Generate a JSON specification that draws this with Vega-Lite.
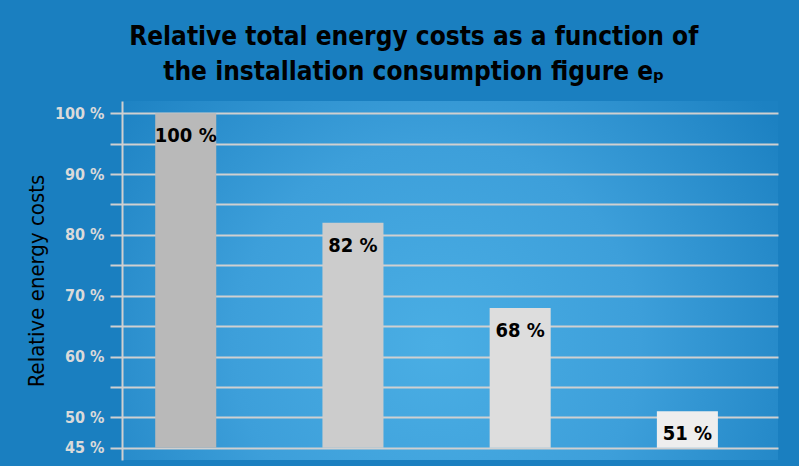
{
  "$schema": "https://vega.github.io/schema/vega-lite/v6.json",
  "autosize": {"type": "none"},
  "padding": {"left": 122, "top": 101, "right": 21, "bottom": 6},
  "width": 656,
  "height": 359,
  "background": "#1a7fc0",
  "title": {
    "text": ["Relative total energy costs as a function of", "the installation consumption figure eₚ"],
    "fontSize": 26,
    "fontWeight": "bold",
    "font": "DejaVu Sans Condensed, sans-serif",
    "color": "#000000",
    "lineHeight": 35,
    "anchor": "middle",
    "frame": "bounds",
    "dx": 12,
    "offset": 16
  },
  "config": {
    "view": {
      "stroke": null,
      "fill": {
        "gradient": "radial",
        "x1": 0.48, "y1": 0.6, "r1": 0,
        "x2": 0.48, "y2": 0.6, "r2": 0.62,
        "stops": [
          {"offset": 0, "color": "#4aaee4"},
          {"offset": 0.5, "color": "#3d9fda"},
          {"offset": 1, "color": "#1c81c2"}
        ]
      }
    },
    "font": "DejaVu Sans Condensed, sans-serif"
  },
  "data": {
    "values": [
      {"option": "1", "cost": 100},
      {"option": "2", "cost": 82},
      {"option": "3", "cost": 68},
      {"option": "4", "cost": 51}
    ]
  },
  "transform": [{"calculate": "datum.cost + ' %'", "as": "label"}],
  "encoding": {
    "x": {
      "field": "option",
      "type": "nominal",
      "axis": null,
      "scale": {"paddingInner": 0.635, "paddingOuter": 0.279, "align": 0.356}
    },
    "y": {
      "field": "cost",
      "type": "quantitative",
      "scale": {"domain": [43, 102], "nice": false, "zero": false},
      "axis": {
        "title": "Relative energy costs",
        "titleFont": "DejaVu Sans Condensed, sans-serif",
        "titleFontSize": 22,
        "titleFontWeight": "normal",
        "titleColor": "#000000",
        "titlePadding": 6,
        "values": [45, 50, 55, 60, 65, 70, 75, 80, 85, 90, 95, 100],
        "labelExpr": "(datum.value % 10 === 0 || datum.value === 45) ? (datum.value + ' %') : ''",
        "labelOverlap": false,
        "labelFlush": false,
        "labelFontSize": 16,
        "labelFontWeight": "bold",
        "labelColor": "#dadada",
        "labelPadding": 6,
        "tickSize": 12,
        "tickColor": "#d0d0d0",
        "tickWidth": 2,
        "domainColor": "#d0d0d0",
        "domainWidth": 2,
        "gridColor": "#d0d0d0",
        "gridWidth": 2,
        "gridOpacity": 1
      }
    }
  },
  "layer": [
    {
      "mark": {"type": "bar"},
      "encoding": {
        "y2": {"datum": 45},
        "color": {
          "field": "option",
          "type": "nominal",
          "scale": {"range": ["#b9b9b9", "#cccccc", "#dddddd", "#eeeeee"]},
          "legend": null
        }
      }
    },
    {
      "mark": {
        "type": "text",
        "baseline": "alphabetic",
        "align": "center",
        "dy": 29,
        "fontSize": 20,
        "fontWeight": "bold",
        "color": "#000000"
      },
      "encoding": {
        "text": {"field": "label"}
      }
    }
  ]
}
